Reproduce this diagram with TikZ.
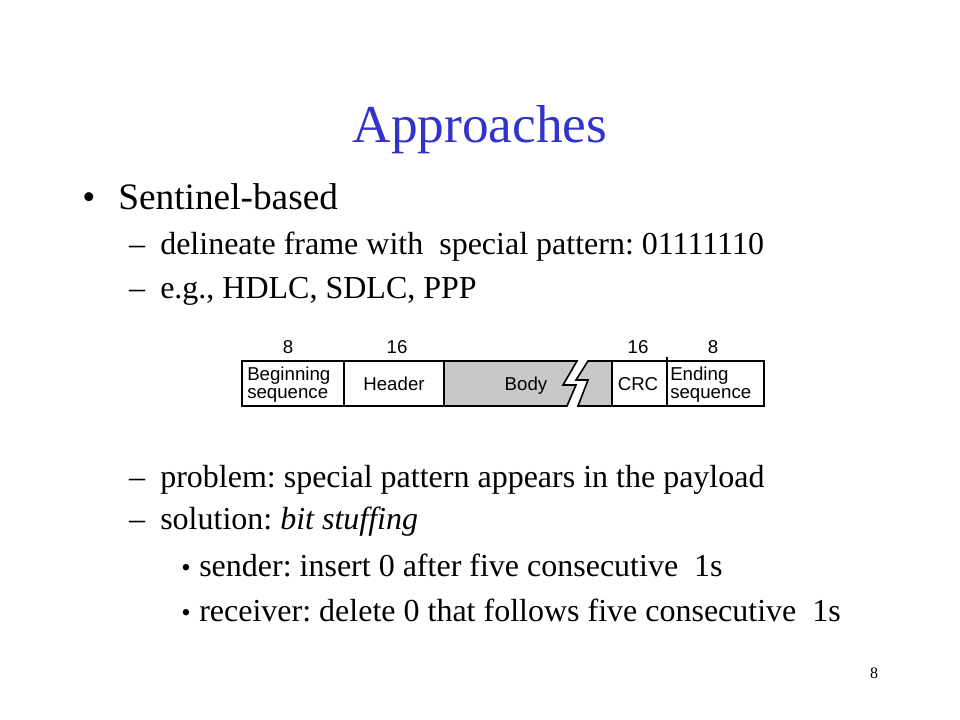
\documentclass[tikz,border=0pt]{standalone}
\usepackage{fontspec}
\setmainfont{Liberation Serif}
\newfontfamily\arialfont{Liberation Sans}
\frenchspacing

\definecolor{titleblue}{RGB}{51,51,204}
\definecolor{bodygray}{RGB}{200,200,200}

\begin{document}
\begin{tikzpicture}[x=0.75pt,y=-0.75pt,
  every node/.style={inner sep=0pt},
  slidetitle/.style={anchor=base,text=titleblue,font=\fontsize{40}{48}\selectfont},
  lvlone/.style={anchor=base west,font=\fontsize{28}{34}\selectfont},
  lvltwo/.style={anchor=base west,font=\fontsize{24}{29}\selectfont},
  dot/.style={anchor=base,font=\fontsize{20}{24}\selectfont},
  cell/.style={font=\arialfont\fontsize{14}{12}\selectfont},
  field/.style={draw,line width=1.2pt}]
\useasboundingbox (0,0) rectangle (960,720);

\node[slidetitle] (title) at (480,143) {Approaches};

\node[lvlone,anchor=base] (b1) at (89,210) {•};
\node[lvlone] (sentinel) at (118,210) {Sentinel-based};
\node[lvltwo,anchor=base] (d1) at (137,255) {–};
\node[lvltwo] (delineate) at (160,255) {delineate frame with\ \ special pattern: 01111110};
\node[lvltwo,anchor=base] (d2) at (137,299) {–};
\node[lvltwo] (hdlc) at (160,299) {e.g., HDLC, SDLC, PPP};

% frame layout
\draw[field] (242,361) rectangle (344,406);
\draw[field] (344,361) rectangle (444,406);
\filldraw[field,fill=bodygray] (444,361) -- (577,361) -- (563,385) -- (576,385) -- (567,406) -- (444,406) -- cycle;
\filldraw[field,fill=bodygray] (588,361) -- (612,361) -- (612,406) -- (578,406) -- (588,380) -- (576,380) -- cycle;
\draw[field] (612,361) rectangle (667,406);
\draw[field] (667,361) rectangle (764,406);
\draw[field] (667,361) -- (667,357);

\node[cell,anchor=base] (n8a) at (288,353) {8};
\node[cell,anchor=base] (n16a) at (397,353) {16};
\node[cell,anchor=base] (n16b) at (638,353) {16};
\node[cell,anchor=base] (n8b) at (713,353) {8};
\node[cell,anchor=west,align=left] (begseq) at (247,385) {Beginning\\[1.5pt]sequence};
\node[cell,anchor=base] (header) at (394,390) {Header};
\node[cell,anchor=base] (body) at (526,390) {Body};
\node[cell,anchor=base] (crc) at (638,390) {CRC};
\node[cell,anchor=west,align=left] (endseq) at (670,385) {Ending\\[1.5pt]sequence};

\node[lvltwo,anchor=base] (d3) at (137,487) {–};
\node[lvltwo] (problem) at (160,487) {problem: special pattern appears in the payload};
\node[lvltwo,anchor=base] (d4) at (137,529) {–};
\node[lvltwo] (solution) at (160,529) {solution: \textit{bit stuffing}};
\node[dot] (b2) at (186,576) {•};
\node[lvltwo] (sender) at (199,576) {sender: insert 0 after five consecutive\ \ 1s};
\node[dot] (b3) at (186,621) {•};
\node[lvltwo] (receiver) at (199,621) {receiver: delete 0 that follows five consecutive\ \ 1s};

\node[anchor=base,font=\fontsize{12}{14}\selectfont] (pagenum) at (874,678) {8};
\end{tikzpicture}
\end{document}
